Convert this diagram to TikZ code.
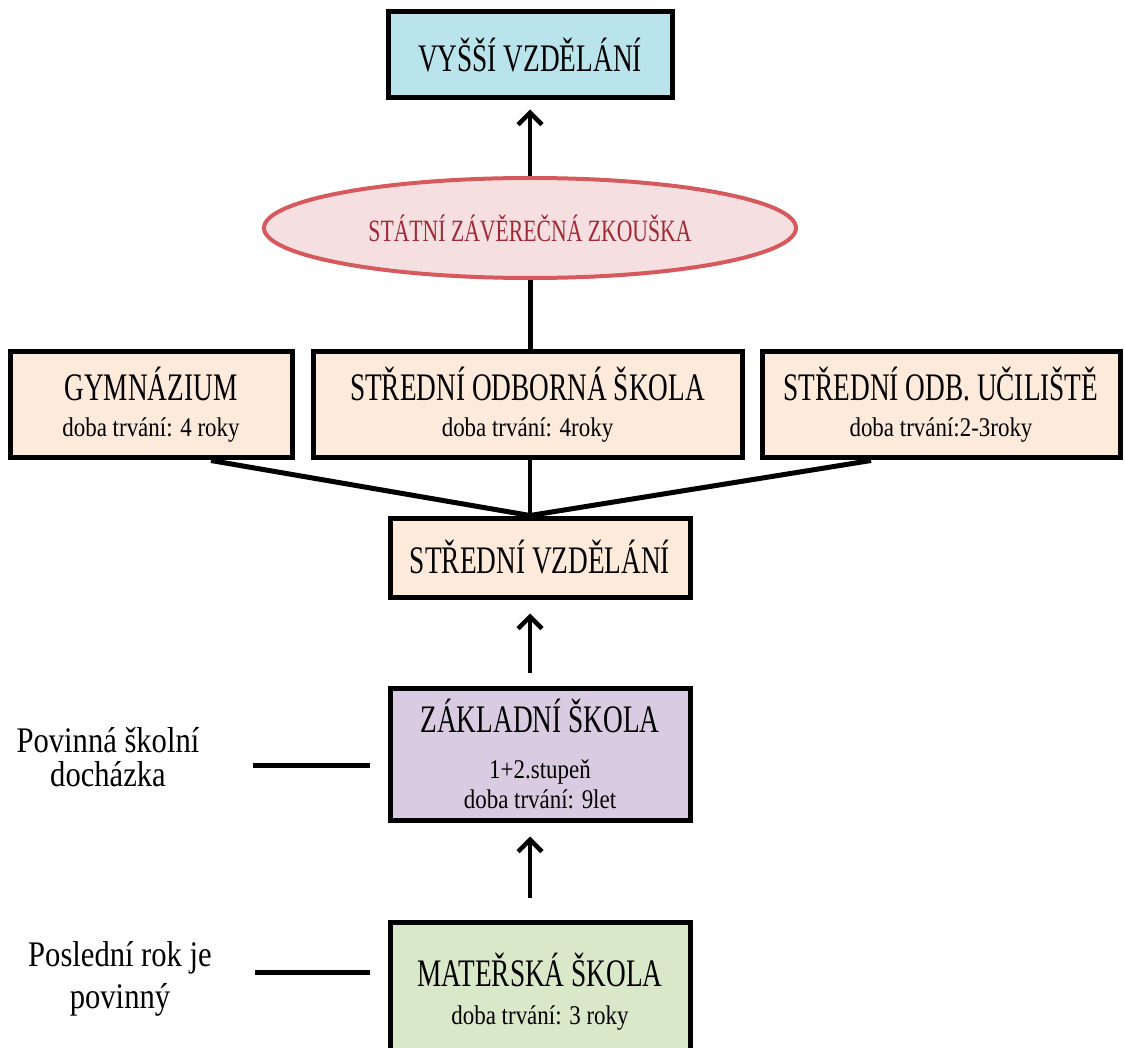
\documentclass[tikz,border=0pt]{standalone}
\usepackage{fontspec}
\setmainfont{Liberation Serif}
\newfontfamily\capsfamily{Liberation Serif}[FakeStretch=0.70]
\newfontfamily\bodyfamily{Liberation Serif}[FakeStretch=0.85]
\usetikzlibrary{arrows.meta,shapes.geometric,backgrounds}

\definecolor{vyssiblue}{HTML}{B9E4EC}
\definecolor{stredpeach}{HTML}{FDEADB}
\definecolor{zakladlila}{HTML}{D9CCE2}
\definecolor{materzel}{HTML}{D9E8C9}
\definecolor{zkouspink}{HTML}{F5DFE0}
\definecolor{zkousred}{HTML}{D65A5D}
\definecolor{zkoustext}{HTML}{9E2A36}

\newcommand{\boxtitle}{\capsfamily\fontsize{39}{30}\selectfont}
\newcommand{\boxsub}{\bodyfamily\fontsize{27}{30}\selectfont}

\tikzset{
  box/.style={draw, line width=5pt, align=center, inner sep=0pt, font=\boxsub},
  sidetext/.style={align=center, font=\bodyfamily\fontsize{36}{34}\selectfont},
  link/.style={line width=5pt},
  uparrow/.style={line width=4.5pt, -{Straight Barb[length=12pt,width=24pt,line width=4.5pt]}},
}

\begin{document}
\begin{tikzpicture}[x=1pt, y=-1pt]
  \useasboundingbox[fill=white] (0,0) rectangle (1125,1048);

  % top
  \node[box, fill=vyssiblue, minimum width=284, minimum height=86] (vv) at (530,55) {\boxtitle VYŠŠÍ VZDĚLÁNÍ};
  \node[ellipse, draw=zkousred, fill=zkouspink, line width=4pt, minimum width=532, minimum height=100, inner sep=0pt] (zk) at (530,228)
    {\capsfamily\fontsize{31}{34}\selectfont\color{zkoustext}STÁTNÍ ZÁVĚREČNÁ ZKOUŠKA};

  % secondary schools
  \node[box, fill=stredpeach, minimum width=282, minimum height=106] (gym) at (151,405)
    {\boxtitle GYMNÁZIUM\\[6pt]\boxsub doba trvání: 4 roky};
  \node[box, fill=stredpeach, minimum width=429, minimum height=106] (sos) at (527.5,405)
    {\boxtitle STŘEDNÍ ODBORNÁ ŠKOLA\\[6pt]\boxsub doba trvání: 4roky};
  \node[box, fill=stredpeach, minimum width=358, minimum height=106] (sou) at (941,405)
    {\boxtitle STŘEDNÍ ODB. UČILIŠTĚ\\[6pt]\boxsub doba trvání:2-3roky};
  \node[box, fill=stredpeach, minimum width=300, minimum height=79] (sv) at (540,557.5) {\boxtitle STŘEDNÍ VZDĚLÁNÍ};

  % basic
  \node[box, fill=zakladlila, minimum width=300, minimum height=132] (zs) at (540,754)
    {\boxtitle ZÁKLADNÍ ŠKOLA\\[16pt]\boxsub 1+2.stupeň\\\boxsub doba trvání: 9let};
  \node[box, fill=materzel, minimum width=300, minimum height=140] (ms) at (540,992)
    {\boxtitle MATEŘSKÁ ŠKOLA\\[8pt]\boxsub doba trvání: 3 roky};

  % side labels
  \node[sidetext] (pov) at (108,757) {Povinná školní\\docházka};
  \node[sidetext] (pos) at (120,979) {Poslední rok je\\[8pt]povinný};

  % connectors
  \begin{scope}[on background layer]
    \draw[link] ([xshift=-16pt]gym.north) -- ([yshift=-15pt]zk.south);
  \end{scope}
  \draw[link] (sos.north -| zk.south) -- (zk.south);
  \draw[uparrow, shorten >=9pt] (zk.north) -- (zk.north |- vv.south);

  \draw[link] ([xshift=60pt]gym.south) -- ([xshift=-10pt]sv.north);
  \draw[link] ([xshift=-70pt]sou.south) -- ([xshift=-10pt]sv.north);
  \draw[line width=3.5pt] ([xshift=-10pt]sv.north |- sos.south) -- ([xshift=-10pt]sv.north);

  \draw[uparrow, shorten <=13pt, shorten >=14pt] ([xshift=-10pt]zs.north) -- ([xshift=-10pt]sv.south);
  \draw[uparrow, shorten <=22pt, shorten >=14pt] ([xshift=-10pt]ms.north) -- ([xshift=-10pt]zs.south);

  \draw[link, shorten <=50pt, shorten >=18pt] ([yshift=-8pt]pov.east) -- ([yshift=-8pt]pov.east -| zs.west);
  \draw[link, shorten <=40pt, shorten >=18pt] ([yshift=7pt]pos.east) -- ([yshift=7pt]pos.east -| ms.west);
\end{tikzpicture}
\end{document}
